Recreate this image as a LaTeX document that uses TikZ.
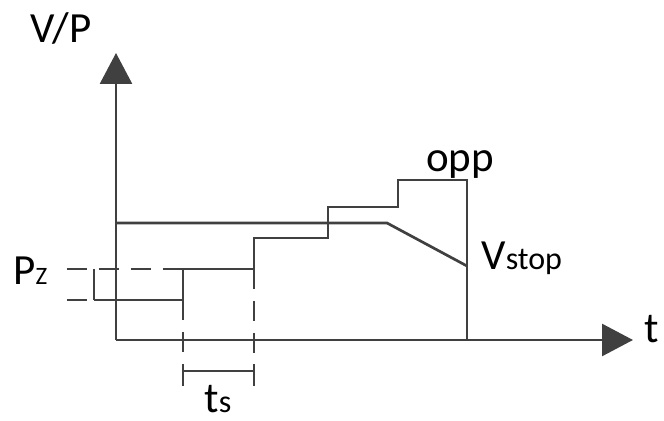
\documentclass[tikz,border=0pt]{standalone}
\usepackage{fontspec}
\setmainfont{Carlito}
\usetikzlibrary{arrows.meta}
\definecolor{linegray}{HTML}{404040}
\newcommand{\subtxt}[1]{{\fontsize{16}{19}\selectfont #1}}

\begin{document}
\begin{tikzpicture}[x=0.5pt, y=-0.5pt, line width=1.35pt, every node/.style={font=\fontsize{21.5}{25}\selectfont, inner sep=0pt}, >={Triangle[length=15.5pt, width=16pt]}, dsh/.style={dash pattern=on 10pt off 6pt}]
	\useasboundingbox (0,0) rectangle (664,421);
	\coordinate (o) at (116,340);
	% axes
	\draw[linegray, ->] (o) -- (116,53);
	\draw[linegray, ->] (o) -- (633,340);
	% P curve
	\draw[linegray] (94,300) -- (183,300) -- (183,269) -- (254,269) -- (254,238) -- (328,238) -- (328,207) -- (398,207) -- (398,180) -- (467,180) -- (467,340);
	% V curve
	\draw[linegray] (116,223) -- (387,223) -- (467,266);
	% dashed helpers
	\draw[linegray, dsh] (67,269) -- (183,269);
	\draw[linegray, dsh] (67,300) -- (94,300);
	\draw[linegray] (94,269) -- (94,300);
	\foreach \x/\y in {183/300, 254/269} {\draw[linegray, dsh] (\x,\y) -- (\x,361);}
	% t_s bracket
	\draw[linegray] (183,364) -- (183,386) (183,371) -- (254,371) (254,364) -- (254,386);
	% labels
	\node[anchor=base] (vp) at (61,43) {V/P};
	\node[anchor=base] (t) at (652,343) {t};
	\node[anchor=base] (opp) at (460,172) {opp};
	\node[anchor=base west] (vstop) at (480,270) {V\subtxt{stop}};
	\node[anchor=base west] (pz) at (12,285) {P{\fontsize{12.5}{15}\selectfont Z}};
	\node[anchor=base] (ts) at (218,413) {t\subtxt{s}};
\end{tikzpicture}
\end{document}
